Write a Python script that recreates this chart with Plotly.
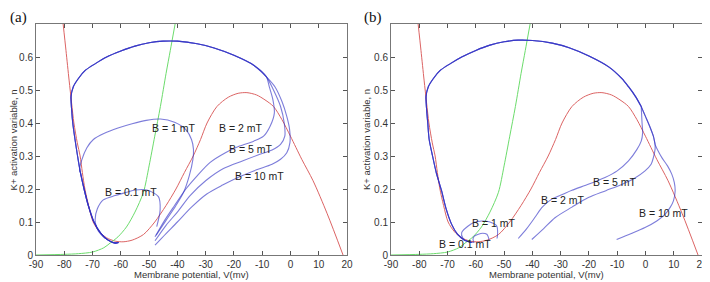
import plotly.graph_objects as go
from plotly.subplots import make_subplots

# ---------------- nullclines (shared by both panels) ----------------
red_V = [-80.4, -79.4, -78.3, -77.4, -76.6, -75.4, -74.4, -73.6, -72.7, -71.4, -69.8, -67.5, -65, -62,
         -59.2, -56, -52, -48, -44, -40.5, -37.5, -34.4, -31.8, -29.5, -26, -22, -18.5, -15.4, -12, -9,
         -6, -3, 0, 4, 8, 13, 18.6]
red_n = [0.70, 0.62, 0.53, 0.46, 0.40, 0.34, 0.30, 0.25, 0.20, 0.15, 0.10, 0.07, 0.052, 0.042,
         0.04, 0.045, 0.062, 0.10, 0.15, 0.20, 0.25, 0.30, 0.35, 0.40, 0.45, 0.478, 0.49, 0.492, 0.485, 0.47,
         0.45, 0.41, 0.36, 0.29, 0.225, 0.125, 0.0]

green_V = [-90, -80, -75, -70, -66, -63.8, -61, -58, -55, -52, -50, -48, -46, -44, -42.5, -40.8]
green_n = [0.0, 0.002, 0.004, 0.009, 0.022, 0.036, 0.055, 0.085, 0.13, 0.19, 0.27, 0.36, 0.45, 0.55, 0.62, 0.70]

# ---------------- panel (a) trajectories ----------------
cycA_V = [-8.5, -13, -20, -27, -33, -40, -45, -50, -55, -60, -65, -69, -72.5, -75, -76.8, -77.6, -77.4,
          -77, -76.2, -75.3, -74.3, -73, -71.5, -69.5, -67, -64.5, -62, -60.8]
cycA_n = [0.54, 0.575, 0.605, 0.627, 0.64, 0.648, 0.648, 0.643, 0.633, 0.618, 0.6, 0.58, 0.56, 0.535, 0.51,
          0.48, 0.44, 0.4, 0.35, 0.3, 0.25, 0.2, 0.15, 0.1, 0.065, 0.045, 0.036, 0.038]

a_B2_V = [-47.9, -44.5, -41, -37, -33, -28.5, -23, -18, -13, -9.5, -7.2, -5.7, -6.2, -7.5]
a_B2_n = [0.055, 0.105, 0.15, 0.2, 0.24, 0.28, 0.31, 0.33, 0.345, 0.36, 0.39, 0.43, 0.47, 0.51]
a_B5_V = [-47.9, -44, -40, -35.5, -30, -23.7, -17, -11.5, -6.5, -3.5, -2, -2.2, -3.5, -6]
a_B5_n = [0.043, 0.09, 0.13, 0.18, 0.225, 0.262, 0.285, 0.303, 0.318, 0.335, 0.36, 0.4, 0.45, 0.5]
a_B10_V = [-47.9, -44, -40, -35, -29.6, -24, -17.8, -12, -6.5, -3.5, -1.3, -0.2, -0.3, -1.3, -3, -5.5]
a_B10_n = [0.03, 0.065, 0.1, 0.145, 0.185, 0.212, 0.238, 0.258, 0.275, 0.29, 0.31, 0.34, 0.38, 0.42, 0.465, 0.51]
a_B1_V = [-47.5, -44, -40.5, -37.8, -35.8, -34.5, -34.3, -35, -37, -41, -46, -51, -56, -61, -66, -69.7,
          -72, -73.8, -74.6, -74.3, -73, -71.5, -69.5, -67, -64.5, -62, -60.8]
a_B1_n = [0.06, 0.105, 0.15, 0.19, 0.24, 0.29, 0.32, 0.35, 0.38, 0.402, 0.412, 0.408, 0.398, 0.385, 0.368, 0.35,
          0.325, 0.288, 0.255, 0.25, 0.2, 0.15, 0.1, 0.065, 0.045, 0.036, 0.038]
a_B01_V = [-47.3, -46.1, -46.7, -50.8, -55, -57.9, -62, -66.2, -68.3, -69.1, -68.6, -67.4, -65, -62.5, -60.8]
a_B01_n = [0.086, 0.136, 0.177, 0.197, 0.197, 0.19, 0.18, 0.167, 0.14, 0.106, 0.085, 0.066, 0.048, 0.038, 0.038]

# ---------------- panel (b) trajectories ----------------
cycB_V = [-1.5, -3.5, -6, -8.4, -13, -20, -27, -33, -40, -45, -50, -55, -60, -65, -69, -72.5, -75, -76.8,
          -77.6, -77.4, -77, -76.5, -75.3, -74, -72.1, -70.5, -68.5, -66.5, -64, -61.5]
cycB_n = [0.45, 0.48, 0.51, 0.535, 0.57, 0.603, 0.628, 0.642, 0.65, 0.651, 0.646, 0.636, 0.62, 0.6, 0.58,
          0.56, 0.535, 0.51, 0.48, 0.44, 0.4, 0.35, 0.3, 0.25, 0.194, 0.14, 0.092, 0.063, 0.045, 0.038]
b_right_V = [3.4, 2.8, 1.5, 0, -1.5]
b_right_n = [0.335, 0.36, 0.39, 0.42, 0.45]

b_B2_V = [-45, -42, -39, -36.5, -33, -29, -26, -20, -14.3, -10, -6, -3, -1.5, -1, -1.2, -1.5]
b_B2_n = [0.05, 0.08, 0.115, 0.145, 0.17, 0.185, 0.196, 0.215, 0.235, 0.255, 0.285, 0.32, 0.345, 0.37, 0.4, 0.45]
b_B5_V = [-40.2, -36, -32, -26, -20.2, -14, -8.4, -4, -0.15, 2, 2.8, 3.4, 3.4]
b_B5_n = [0.047, 0.08, 0.113, 0.145, 0.174, 0.195, 0.214, 0.232, 0.255, 0.275, 0.295, 0.32, 0.335]
b_B10_V = [-10.2, -5, -0.15, 4, 6.9, 8.8, 9.9, 10.5, 10.2, 9.3, 7.8, 5.8, 4.3, 3.4]
b_B10_n = [0.047, 0.065, 0.083, 0.103, 0.123, 0.145, 0.164, 0.194, 0.22, 0.245, 0.27, 0.295, 0.318, 0.335]
b_B1_V = [-52.5, -52.3, -52.6, -55, -57.9, -60.5, -62.7, -65, -64.5, -62.5, -60.5]
b_B1_n = [0.05, 0.063, 0.088, 0.1, 0.103, 0.099, 0.088, 0.068, 0.05, 0.04, 0.038]
b_B01_V = [-55.3, -55.6, -56.1, -57.6, -59.1, -60.5, -61, -60.7]
b_B01_n = [0.045, 0.055, 0.063, 0.066, 0.063, 0.057, 0.048, 0.04]

# ---------------- labels ----------------
a_lab_text = ["B = 1 mT", "B = 2 mT", "B = 5 mT", "B = 10 mT", "B = 0.1 mT"]
a_lab_V = [-41.5, -17.8, -14.3, -11, -56.3]
a_lab_n = [0.384, 0.384, 0.32, 0.24, 0.192]
b_lab_text = ["B = 5 mT", "B = 2 mT", "B = 10 mT", "B = 1 mT", "B = 0.1 mT"]
b_lab_V = [-11, -29.5, 6.5, -53.8, -64]
b_lab_n = [0.22, 0.166, 0.126, 0.098, 0.032]

xticks = [-90, -80, -70, -60, -50, -40, -30, -20, -10, 0, 10, 20]
xtick_text = ["-90", "-80", "-70", "-60", "-50", "-40", "-30", "-20", "-10", "0", "10", "20"]
yticks = [0, 0.1, 0.2, 0.3, 0.4, 0.5, 0.6]
ytick_text = ["0", "0.1", "0.2", "0.3", "0.4", "0.5", "0.6"]

RED = "#dc6464"
GREEN = "#6cdc6c"
BLUE = "rgba(45,45,195,0.62)"
SANS = "Liberation Sans"

# The page body has an 8px default margin, so the figure starts at page (8, 8).
OFF = 8
FW, FH = 710 - OFF, 282 - OFF


def px(x):
    return (x - OFF) / FW


def py(y):
    return 1 - (y - OFF) / FH


fig = make_subplots(rows=1, cols=2, horizontal_spacing=0.066)


def add(V, n, color, col, width=1.0):
    fig.add_trace(go.Scatter(x=V, y=n, mode="lines", line=dict(color=color, width=width, shape="spline",
                                                               smoothing=0.8),
                             showlegend=False, hoverinfo="skip"), row=1, col=col)


for col in (1, 2):
    add(red_V, red_n, RED, col)
    add(green_V, green_n, GREEN, col)

# panel (a)
for V, n in [(a_B2_V, a_B2_n), (a_B5_V, a_B5_n), (a_B10_V, a_B10_n)]:
    add(V + cycA_V, n + cycA_n, BLUE, 1, 1.1)
add(a_B1_V, a_B1_n, BLUE, 1, 1.1)
add(a_B01_V, a_B01_n, BLUE, 1, 1.1)

# panel (b)
add(b_B2_V + cycB_V, b_B2_n + cycB_n, BLUE, 2, 1.1)
add(b_B5_V + b_right_V + cycB_V, b_B5_n + b_right_n + cycB_n, BLUE, 2, 1.1)
add(b_B10_V + b_right_V + cycB_V, b_B10_n + b_right_n + cycB_n, BLUE, 2, 1.1)
add(b_B1_V, b_B1_n, BLUE, 2, 1.1)
add(b_B01_V, b_B01_n, BLUE, 2, 1.1)

tickfont = dict(family=SANS, size=10, color="#333")
fig.update_xaxes(range=[-90, 20], tickvals=xticks, ticktext=xtick_text, ticks="inside", ticklen=4,
                 tickcolor="#555", showline=True, linecolor="#777", linewidth=1, mirror="ticks",
                 showgrid=False, zeroline=False, tickfont=tickfont, ticklabelstandoff=0, automargin=False)
fig.update_yaxes(range=[0, 0.7], tickvals=yticks, ticktext=ytick_text, ticks="inside", ticklen=4,
                 tickcolor="#555", showline=True, linecolor="#777", linewidth=1, mirror="ticks",
                 showgrid=False, zeroline=False, tickfont=tickfont, ticklabelstandoff=0, automargin=False)

ann = []
labfont = dict(family=SANS, size=10.5, color="#222")
for txt, V, n in zip(a_lab_text, a_lab_V, a_lab_n):
    ann.append(dict(x=V, y=n, xref="x", yref="y", text=txt, showarrow=False, font=labfont))
for txt, V, n in zip(b_lab_text, b_lab_V, b_lab_n):
    ann.append(dict(x=V, y=n, xref="x2", yref="y2", text=txt, showarrow=False, font=labfont))

tfont = dict(family=SANS, size=9.5, color="#333")
serif = dict(family="Liberation Serif", size=15, color="#111")
ann += [
    dict(x=px((36 + 347) / 2), y=py(274), xref="paper", yref="paper", xanchor="center",
         yanchor="middle", text="Membrane potential, V(mv)", showarrow=False, font=tfont),
    dict(x=px((391 + 702) / 2), y=py(274), xref="paper", yref="paper", xanchor="center",
         yanchor="middle", text="Membrane potential, V(mv)", showarrow=False, font=tfont),
    dict(x=px(12.5), y=py(140), xref="paper", yref="paper", xanchor="center", yanchor="middle",
         textangle=-90, text="K+ activation variable, n", showarrow=False, font=tfont, borderpad=0),
    dict(x=px(366), y=py(140), xref="paper", yref="paper", xanchor="center", yanchor="middle",
         textangle=-90, text="K+ activation variable, n", showarrow=False, font=tfont, borderpad=0),
    dict(x=px(18), y=py(8), xref="paper", yref="paper", xanchor="center", yanchor="top",
         text="(a)", showarrow=False, font=serif, borderpad=0),
    dict(x=px(373), y=py(8), xref="paper", yref="paper", xanchor="center", yanchor="top",
         text="(b)", showarrow=False, font=serif, borderpad=0),
]
fig.update_layout(width=FW, height=FH, margin=dict(l=0, r=0, t=0, b=0, autoexpand=False),
                  paper_bgcolor="white", plot_bgcolor="white", annotations=ann)
fig.update_xaxes(domain=[px(36), px(347)], row=1, col=1)
fig.update_xaxes(domain=[px(391), px(702)], row=1, col=2)
fig.update_yaxes(domain=[py(255), py(24)])

fig.write_html("out.html")
